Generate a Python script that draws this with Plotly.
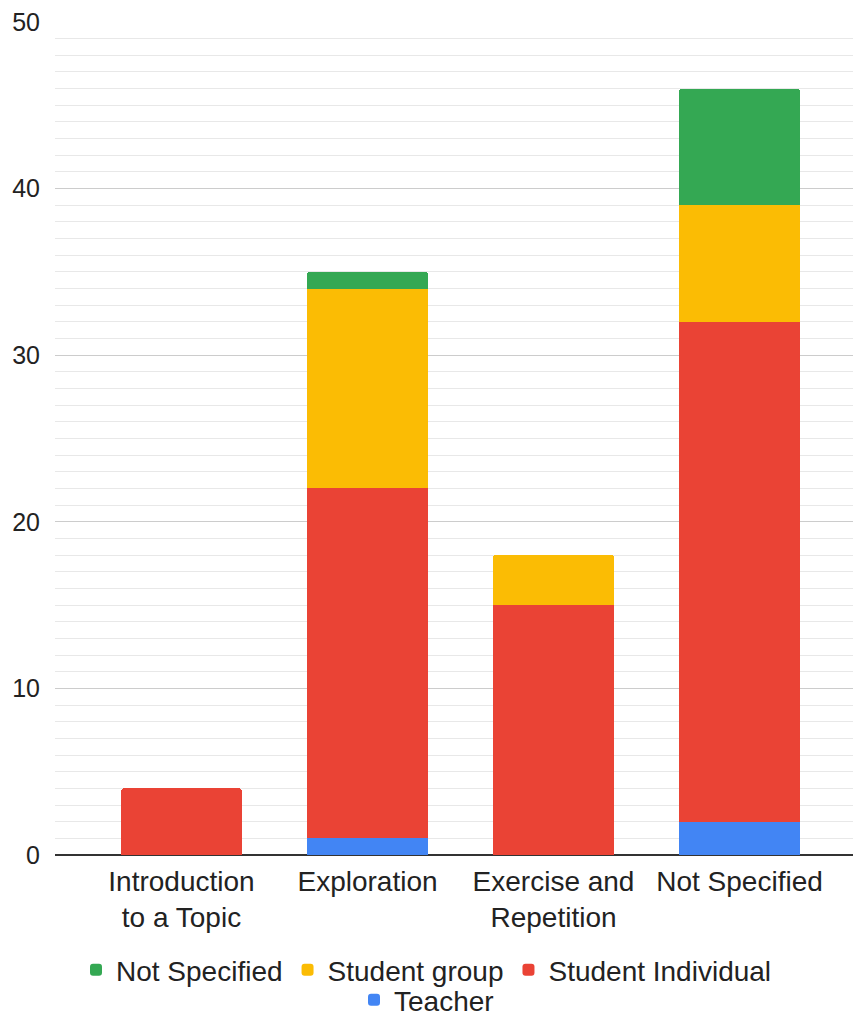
import plotly.graph_objects as go

categories = ["Introduction<br>to a Topic", "Exploration", "Exercise and<br>Repetition", "Not Specified"]

# stacked from the bottom up
teacher = [0, 1, 0, 2]
student_individual = [4, 21, 15, 30]
student_group = [0, 12, 3, 7]
not_specified = [0, 1, 0, 7]

# (name, values, colour, legend row)
series = [
    ("Teacher", teacher, "#4285F4", "legend2"),
    ("Student Individual", student_individual, "#EA4335", "legend"),
    ("Student group", student_group, "#FBBC04", "legend"),
    ("Not Specified", not_specified, "#34A853", "legend"),
]

FONT = "Liberation Sans, Arial, sans-serif"
TEXT = "#222222"

fig = go.Figure()
for name, vals, color, leg in series:
    fig.add_trace(go.Bar(
        x=list(range(len(categories))),
        y=vals,
        name=name,
        marker=dict(color=color, line=dict(width=0)),
        width=0.65,
        legend=leg,
    ))

legend_common = dict(
    orientation="h",
    xref="container",
    x=0.5,
    xanchor="center",
    yanchor="middle",
    traceorder="reversed",
    font=dict(size=28, color=TEXT),
    itemwidth=30,
    bgcolor="rgba(0,0,0,0)",
)

fig.update_layout(
    barmode="stack",
    barcornerradius=3,
    width=853,
    height=1018,
    margin=dict(l=55, r=0, t=22, b=163, autoexpand=False),
    plot_bgcolor="white",
    paper_bgcolor="white",
    font=dict(family=FONT, color=TEXT),
    xaxis=dict(
        tickmode="array",
        tickvals=list(range(len(categories))),
        ticktext=categories,
        range=[-0.68, 3.61],
        showgrid=False,
        tickfont=dict(size=28, color=TEXT),
        ticks="",
        ticklabelstandoff=7,
        zeroline=False,
        showline=False,
    ),
    yaxis=dict(
        range=[0, 50],
        dtick=10,
        tickfont=dict(size=25, color=TEXT),
        gridcolor="#cccccc",
        gridwidth=1,
        minor=dict(dtick=1, showgrid=True, gridcolor="#e8e8e8", gridwidth=1),
        zeroline=True,
        zerolinecolor="#333333",
        zerolinewidth=1.5,
        ticklabelstandoff=14,
        showline=False,
    ),
    legend=dict(y=-0.138, **legend_common),
    legend2=dict(y=-0.174, **legend_common),
)

fig.write_html("out.html")
